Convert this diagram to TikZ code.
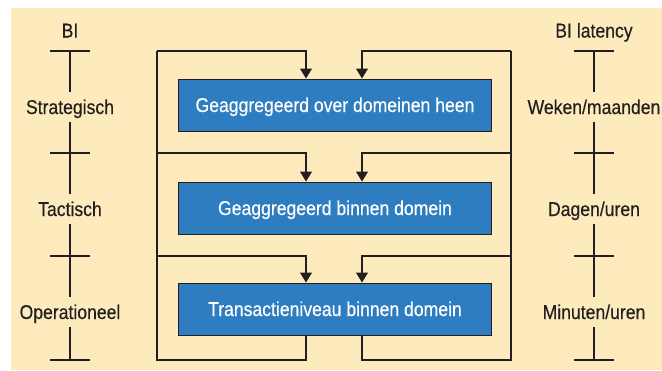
\documentclass[tikz,border=0pt]{standalone}
\usepackage{fontspec}
\setmainfont{Liberation Sans}[FakeStretch=0.88,FakeBold=0.4]
\usetikzlibrary{arrows.meta}
\definecolor{cream}{HTML}{FEEBBD}
\definecolor{boxblue}{HTML}{2F7DC1}
\definecolor{ink}{HTML}{231F20}
\tikzset{
  level/.style={draw=ink, fill=boxblue, text=white, line width=1pt,
    minimum width=313pt, minimum height=52pt, inner sep=0pt,
    text height=14pt, text depth=0pt},
  wire/.style={draw=ink, line width=1.1pt},
  tip/.style={-{Triangle[width=12pt,length=10pt]}},
  scalelbl/.style={text=ink, inner sep=0pt, text height=22pt, text depth=8pt},
}
\begin{document}
\begin{tikzpicture}[x=1pt,y=-1pt,font=\fontsize{20}{24}\selectfont]
  \useasboundingbox (0,0) rectangle (662,370);
  \fill[cream] (11,8) rectangle (662,370);

  % the three levels
  \node[level] (a) at (335,105) {Geaggregeerd over domeinen heen};
  \node[level] (b) at (335,208) {Geaggregeerd binnen domein};
  \node[level] (c) at (335,309) {Transactieniveau binnen domein};

  % feedback frame
  \coordinate (l0) at (157,51);  \coordinate (r0) at (511,51);
  \coordinate (l1) at (157,153); \coordinate (r1) at (511,153);
  \coordinate (l2) at (157,256); \coordinate (r2) at (511,256);
  \coordinate (l3) at (157,360); \coordinate (r3) at (511,360);
  \draw[wire] ([xshift=-29]c.south) |- (l3) -- (l0);
  \draw[wire] ([xshift=27]c.south) |- (r3) -- (r0);
  \draw[wire,tip] (l0) -| ([xshift=-29]a.north);
  \draw[wire,tip] (r0) -| ([xshift=27]a.north);
  \draw[wire,tip] (l1) -| ([xshift=-29]b.north);
  \draw[wire,tip] (r1) -| ([xshift=27]b.north);
  \draw[wire,tip] (l2) -| ([xshift=-29]c.north);
  \draw[wire,tip] (r2) -| ([xshift=27]c.north);

  % BI scale
  \node[text=ink, anchor=base] (bi) at (70,37.5) {BI};
  \node[scalelbl] (s) at (70,107) {Strategisch};
  \node[scalelbl] (t) at (70,209) {Tactisch};
  \node[scalelbl] (o) at (70,312) {Operationeel};
  \coordinate (p0) at (70,51);  \coordinate (p1) at (70,153);
  \coordinate (p2) at (70,256); \coordinate (p3) at (70,360);
  \draw[wire] (p0) -- (s) -- (p1) -- (t) -- (p2) -- (o) -- (p3);

  % latency scale
  \node[text=ink, anchor=base] (lat) at (594,37.5) {BI latency};
  \node[scalelbl] (w) at (594,107) {Weken/maanden};
  \node[scalelbl] (d) at (594,209) {Dagen/uren};
  \node[scalelbl] (m) at (594,312) {Minuten/uren};
  \coordinate (q0) at (594,51);  \coordinate (q1) at (594,153);
  \coordinate (q2) at (594,256); \coordinate (q3) at (594,360);
  \draw[wire] (q0) -- (w) -- (q1) -- (d) -- (q2) -- (m) -- (q3);

  \foreach \i in {0,...,3} {
    \draw[wire] ([xshift=-20]p\i) -- ([xshift=20]p\i);
    \draw[wire] ([xshift=-20]q\i) -- ([xshift=20]q\i);
  }
\end{tikzpicture}
\end{document}
